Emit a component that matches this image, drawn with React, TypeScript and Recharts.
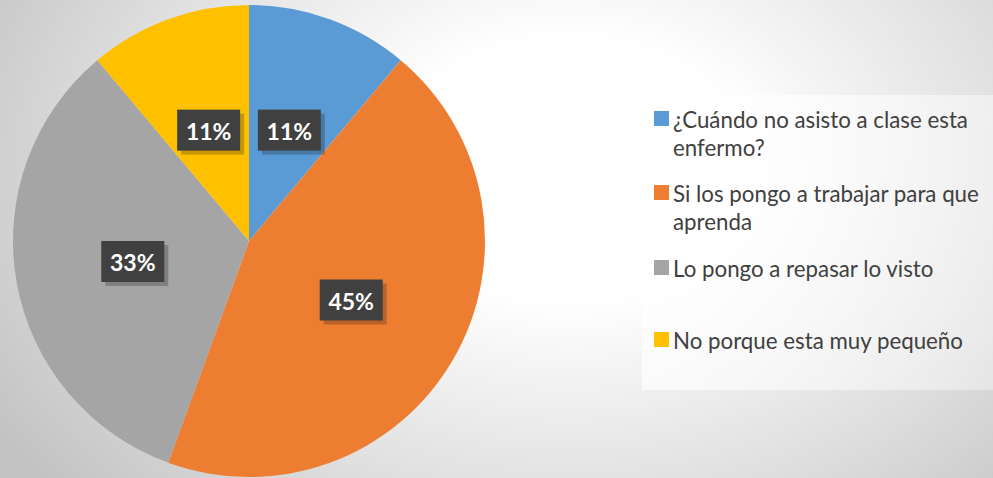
import React from 'react';
import { PieChart, Pie, Cell, Legend } from 'recharts';

const categories = [
  '¿Cuándo no asisto a clase esta enfermo?',
  'Si los pongo a trabajar para que aprenda',
  'Lo pongo a repasar lo visto',
  'No porque esta muy pequeño',
];
// slice sizes; printed labels as shown
const values = [11.1, 44.4, 33.3, 11.1];
const percentLabels = ['11%', '45%', '33%', '11%'];
const colors = ['#5B9BD5', '#ED7D31', '#A5A5A5', '#FFC000'];

// legend text split the way the reference wraps it
const legendLines = [
  ['¿Cuándo no asisto a clase esta', 'enfermo?'],
  ['Si los pongo a trabajar para que', 'aprenda'],
  ['Lo pongo a repasar lo visto'],
  ['No porque esta muy pequeño'],
];

const data = categories.map((name, i) => ({ name, value: values[i], label: percentLabels[i] }));

const RAD = Math.PI / 180;
const FONT = 'Lato, "Open Sans", sans-serif';

const renderLabel = (props: any) => {
  const { cx, cy, midAngle, outerRadius, payload } = props;
  const r = outerRadius * 0.5;
  const x = cx + r * Math.cos(-midAngle * RAD);
  const y = cy + r * Math.sin(-midAngle * RAD);
  const w = 63;
  const h = 41;
  return (
    <g>
      <rect x={x - w / 2 + 4} y={y - h / 2 + 4} width={w} height={h} fill="#000" fillOpacity={0.22} />
      <rect x={x - w / 2} y={y - h / 2} width={w} height={h} fill="#404040" />
      <text
        x={x}
        y={y + 1}
        fill="#fff"
        textAnchor="middle"
        dominantBaseline="central"
        style={{ fontFamily: FONT, fontWeight: 700, fontSize: 23 }}
      >
        {payload.label}
      </text>
    </g>
  );
};

const LegendBox = () => (
  <div
    style={{
      width: 351,
      height: 295,
      background: 'linear-gradient(110deg, rgba(255,255,255,0.8), rgba(255,255,255,0.35))',
      fontFamily: FONT,
      fontSize: 22.3,
      color: '#404040',
      position: 'relative',
    }}
  >
    {legendLines.map((lines, i) => (
      <div key={categories[i]} style={{ position: 'absolute', left: 12, top: [11, 85, 160, 232][i] }}>
        <div style={{ position: 'absolute', left: 0, top: 5, width: 15, height: 15, background: colors[i] }} />
        {lines.map((t, j) => (
          <div key={j} style={{ marginLeft: 19, lineHeight: '28px', whiteSpace: 'nowrap' }}>
            {t}
          </div>
        ))}
      </div>
    ))}
  </div>
);

export default function App() {
  return (
    <div
      style={{
        position: 'absolute',
        left: 0,
        top: 0,
        width: 993,
        height: 478,
        background:
          'radial-gradient(ellipse 680px 500px at 570px 170px, #ffffff 0%, #ffffff 26%, #dedede 68%, #c2c2c2 100%)',
      }}
    >
      <PieChart width={993} height={478} margin={{ top: 0, right: 0, bottom: 0, left: 0 }}>
        <Pie
          data={data}
          dataKey="value"
          nameKey="name"
          cx={249}
          cy={241}
          outerRadius={236}
          startAngle={90}
          endAngle={-270}
          stroke="none"
          labelLine={false}
          label={renderLabel}
          isAnimationActive={false}
        >
          {data.map((d, i) => (
            <Cell key={d.name} fill={colors[i]} />
          ))}
        </Pie>
        <Legend
          content={() => <LegendBox />}
          wrapperStyle={{ position: 'absolute', left: 642, top: 95, width: 351, height: 295 }}
        />
      </PieChart>
    </div>
  );
}
